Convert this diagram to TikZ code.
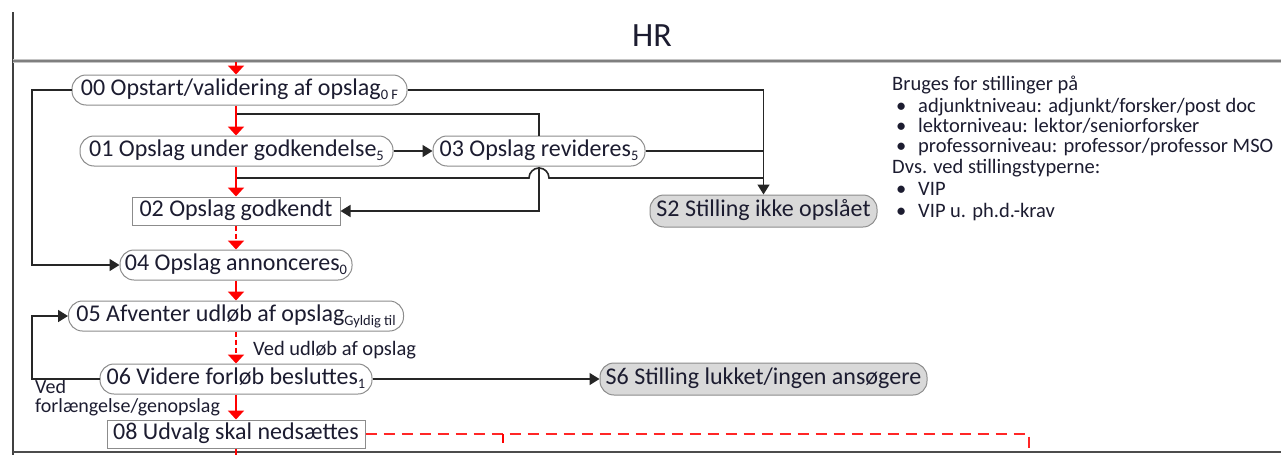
\documentclass[tikz,border=0pt]{standalone}
\usepackage{fontspec}
\setmainfont{Carlito}
\usetikzlibrary{arrows.meta,calc}
\definecolor{bordergray}{HTML}{8C8C8C}
\definecolor{fillgray}{HTML}{D9D9D9}
\definecolor{txt}{HTML}{1C1C30}
\definecolor{lanegray}{HTML}{7F7F7F}
\newcommand{\sbs}[1]{\raisebox{-0.35ex}{\fontsize{14.5}{14.5}\selectfont #1}}
\begin{document}
\begin{tikzpicture}[x=1pt,y=-1pt,
  font=\fontsize{24}{28}\selectfont,
  pill/.style={draw=bordergray, line width=1pt, rounded corners=14pt, fill=white,
    minimum height=30pt, inner sep=2pt, text=txt, text height=15pt, text depth=5pt},
  graypill/.style={pill, fill=fillgray, minimum height=32pt},
  boxnode/.style={draw=bordergray, line width=1pt, fill=white, rounded corners=0pt,
    minimum height=28pt, inner sep=2pt, text=txt, text height=15pt, text depth=5pt},
  redflow/.style={draw=red, line width=2pt, -{Triangle[width=16pt,length=9pt]}},
  redflowdash/.style={redflow, dash pattern=on 5pt off 3pt},
  redline/.style={draw=red, line width=2pt},
  reddash/.style={draw=red!85, line width=2pt, dash pattern=on 11pt off 7pt},
  blackflow/.style={draw=black!85, line width=1.6pt},
  blackarrow/.style={blackflow, -{Triangle[width=12pt,length=10pt]}},
  note/.style={font=\fontsize{20.5}{21}\selectfont, text=txt, inner sep=0pt, anchor=west,
    text height=14pt, text depth=5pt},
  tightnote/.style={note, font=\fontsize{20}{20}\selectfont, text height=11pt, text depth=4pt}
]
\path[use as bounding box] (0,0) rectangle (1281,455);

% lane frame
\draw[draw=black!75, line width=1.2pt] (13,12) -- (13,455);
\draw[draw=lanegray!45, line width=4.5pt] (13,61) -- (1281,61);
\draw[draw=lanegray, line width=2pt] (13,61) -- (1281,61);
\draw[draw=black!70, line width=2pt] (13,452) -- (1281,452);
\node[font=\fontsize{34}{34}\selectfont, text=txt] (title) at (652,36) {HR};

% nodes
\node[pill, minimum width=335pt] (n00) at (239.5,90) {00 Opstart/validering af opslag\sbs{0 F}};
\node[pill, minimum width=313pt] (n01) at (236.5,151) {01 Opslag under godkendelse\sbs{5}};
\node[pill, minimum width=212pt] (n03) at (539,151) {03 Opslag revideres\sbs{5}};
\node[boxnode, minimum width=208pt] (n02) at (236,211) {02 Opslag godkendt};
\node[graypill, minimum width=227pt] (S2) at (763.5,211) {S2 Stilling ikke opslået};
\node[pill, minimum width=232pt] (n04) at (236,265) {04 Opslag annonceres\sbs{0}};
\node[pill, minimum width=335pt] (n05) at (236,316) {05 Afventer udløb af opslag\sbs{Gyldig til}};
\node[pill, minimum width=272pt] (n06) at (236,379) {06 Videre forløb besluttes\sbs{1}};
\node[graypill, minimum width=327pt] (S6) at (763.5,379) {S6 Stilling lukket/ingen ansøgere};
\node[boxnode, minimum width=258pt] (n08) at (236,434) {08 Udvalg skal nedsættes};

% labels
\node[note] (lblA) at (253,351) {Ved udløb af opslag};
\node[tightnote] (lblB1) at (35,389.5) {Ved};
\node[tightnote] (lblB2) at (35,408.5) {forlængelse/genopslag};

% legend
\node[note] (lg1) at (892,86) {Bruges for stillinger på};
\node[note] (lg2) at (896,108) {\makebox[22pt][l]{\textbullet}adjunktniveau: adjunkt/forsker/post doc};
\node[note] (lg3) at (896,128) {\makebox[22pt][l]{\textbullet}lektorniveau: lektor/seniorforsker};
\node[note] (lg4) at (896,148) {\makebox[22pt][l]{\textbullet}professorniveau: professor/professor MSO};
\node[note] (lg5) at (892,169) {Dvs. ved stillingstyperne:};
\node[note] (lg6) at (896,191) {\makebox[22pt][l]{\textbullet}VIP};
\node[note] (lg7) at (896,213) {\makebox[22pt][l]{\textbullet}VIP u. ph.d.-krav};

% helper coordinates
\coordinate (top0) at (236,62);
\coordinate (L1) at (32,0);
\coordinate (j0) at (236,114);
\coordinate (j1) at (236,178);
\coordinate (bot) at (236,455);
\coordinate (tick) at (503,434);
\coordinate (tickend) at (503,443);
\coordinate (corner) at (1029,434);
\coordinate (cornerbot) at (1029,452);

% black connectors
\draw[blackarrow] (n00.west) -| (L1 |- n04.west) -- (n04.west);
\draw[blackarrow] (n00.east) -| (S2.north);
\draw[blackarrow] (n01.east) -- (n03.west);
\draw[blackflow] (n03.east) -- (n03.east -| S2.north);
\draw[blackflow] (n03.north) |- (j0);
\draw[blackflow] (j1) -- ($(n03.south |- j1)+(-10,0)$) arc[start angle=180,end angle=0,radius=10pt] -- (j1 -| S2.north);
\draw[blackarrow] (n03.south) |- (n02.east);
\draw[blackarrow] (n06.west) -| (L1 |- n05.west) -- (n05.west);
\draw[blackarrow] (n06.east) -- (S6.west);

% red flow
\draw[redflow] (top0) -- (top0 |- n00.north);
\draw[redflow] (top0 |- n00.south) -- (top0 |- n01.north);
\draw[redflow] (top0 |- n01.south) -- (n02.north);
\draw[redflowdash] (n02.south) -- (n04.north);
\draw[redflow] (n04.south) -- (n05.north);
\draw[redflowdash] (n05.south) -- (n06.north);
\draw[redflow] (n06.south) -- (n08.north);
\draw[redline] (n08.south) -- (bot);
\draw[reddash] (n08.east) -- (tick) -- (corner) -- (cornerbot);
\draw[redline, line width=1.6pt] (tick) -- (tickend);
\end{tikzpicture}
\end{document}
